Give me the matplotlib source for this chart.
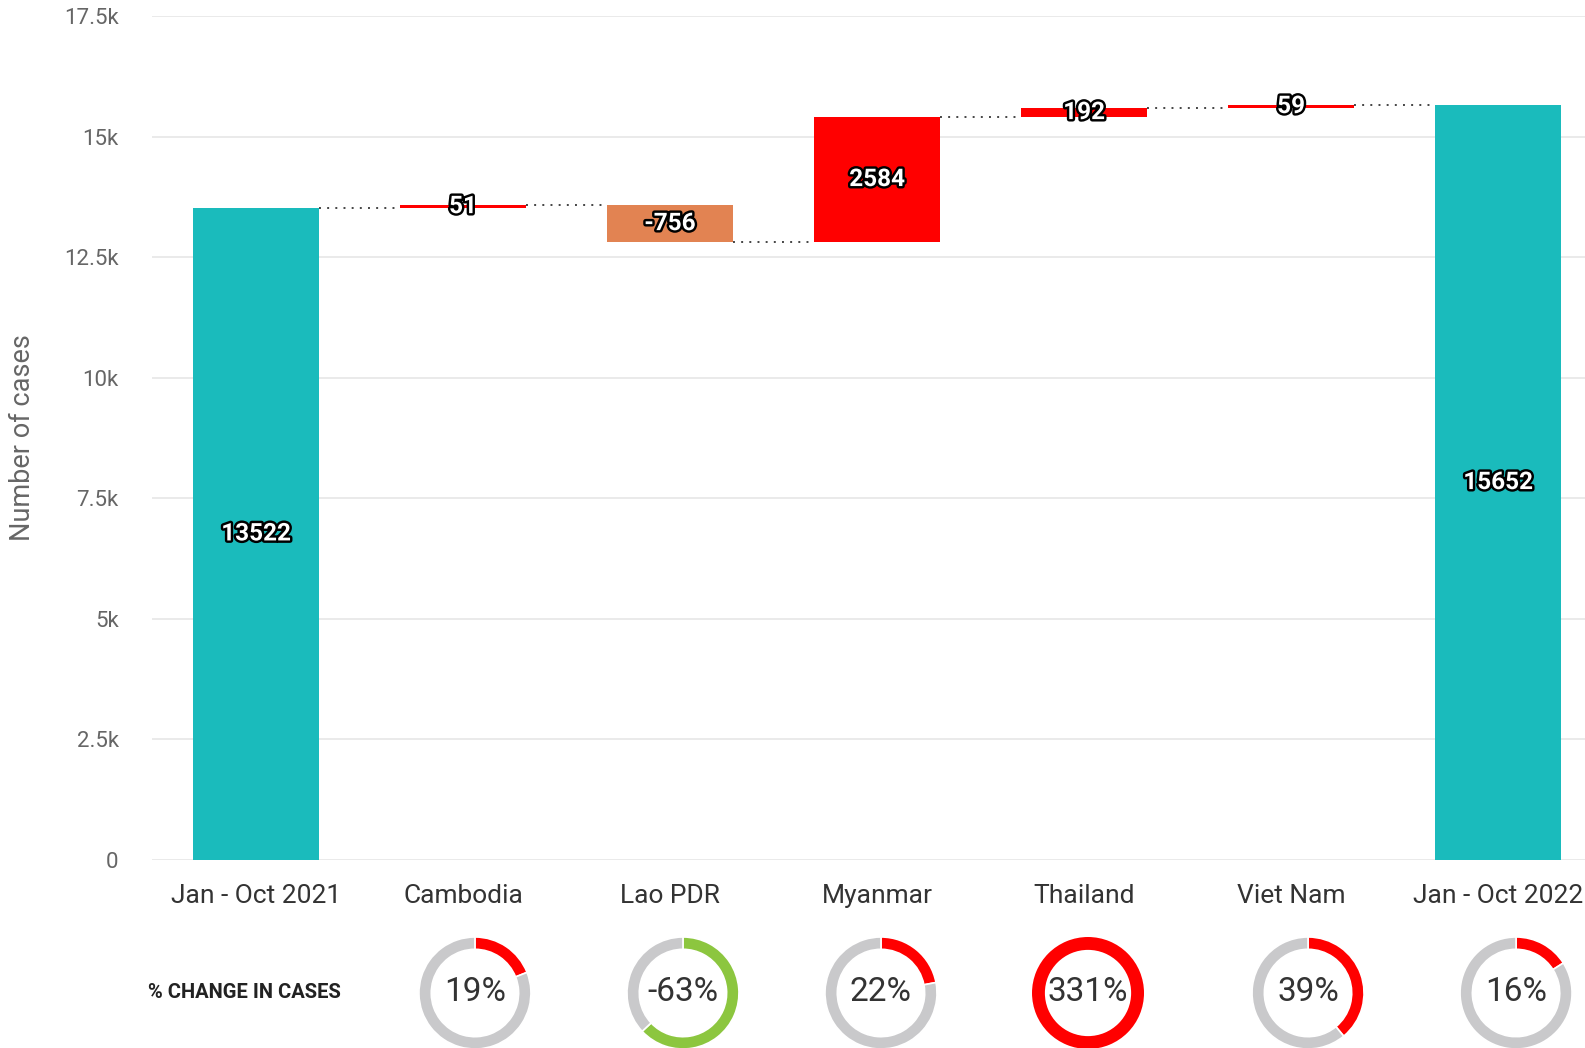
import numpy as np
import matplotlib
matplotlib.use("Agg")
import matplotlib.pyplot as plt
import matplotlib.patheffects as pe

plt.rcParams['font.family'] = ['Roboto', 'DejaVu Sans']

# data
categories = ["Jan - Oct 2021", "Cambodia", "Lao PDR", "Myanmar", "Thailand", "Viet Nam", "Jan - Oct 2022"]
start_total = 13522
changes = [51, -756, 2584, 192, 59]
end_total = 15652
pct_change = [19, -63, 22, 331, 39, 16]
yticks = [0, 2500, 5000, 7500, 10000, 12500, 15000, 17500]
ytick_labels = ["0", "2.5k", "5k", "7.5k", "10k", "12.5k", "15k", "17.5k"]

TEAL = "#1ABBBC"
RED = "#FF0000"
ORANGE = "#E28352"
GREEN = "#8CC63F"
RING_GRAY = "#C9C9CB"

W, H = 1585, 1048
fig = plt.figure(figsize=(W / 100, H / 100), dpi=100)

# main axes in pixel layout
ax_l, ax_r, ax_b, ax_t = 152, W, 860, 16
ax = fig.add_axes([ax_l / W, 1 - ax_b / H, (ax_r - ax_l) / W, (ax_b - ax_t) / H])

# waterfall geometry
bottoms = [0]
heights = [start_total]
colors = [TEAL]
running = start_total
for c in changes:
    if c >= 0:
        bottoms.append(running)
        colors.append(RED)
    else:
        bottoms.append(running + c)
        colors.append(ORANGE)
    heights.append(abs(c))
    running += c
bottoms.append(0)
heights.append(end_total)
colors.append(TEAL)

x = np.arange(len(categories))
bw = 0.61
ax.bar(x, heights, bottom=bottoms, width=bw, color=colors, zorder=3)

# dotted connectors at running totals
levels = np.cumsum([start_total] + changes)
for i, lvl in enumerate(levels):
    ax.plot([x[i] + bw / 2, x[i + 1] - bw / 2], [lvl, lvl], linestyle=(0, (1, 3.2)),
            color="#444444", linewidth=1.4, zorder=2)

# value labels
vals = [start_total] + changes + [end_total]
for i, v in enumerate(vals):
    ax.text(x[i], bottoms[i] + heights[i] / 2, str(v), ha="center", va="center",
            fontsize=17.5, fontweight="bold", color="white", zorder=5,
            path_effects=[pe.withStroke(linewidth=3.5, foreground="black")])

ax.set_xlim(-0.502, 6.42)
ax.set_ylim(0, 17500)
ax.set_yticks(yticks)
ax.set_yticklabels(ytick_labels)
ax.set_xticks(x)
ax.set_xticklabels(categories)
ax.tick_params(axis="y", length=0, pad=24, labelsize=16, labelcolor="#666666")
ax.tick_params(axis="x", length=0, pad=17, labelsize=19, labelcolor="#333333")
ax.grid(axis="y", color="#E6E6E6", linewidth=1.2, zorder=0)
ax.set_axisbelow(True)
for s in ax.spines.values():
    s.set_visible(False)
ax.set_ylabel("Number of cases", fontsize=19.5, color="#666666")
ax.yaxis.set_label_coords((36 - ax_l) / (ax_r - ax_l), 0.5)

# donut row
fig.text(244 / W, 1 - 993 / H, "% CHANGE IN CASES", ha="center", va="center",
         fontsize=14.5, fontweight="bold", color="#222222")

scale = (ax_r - ax_l) / (ax.get_xlim()[1] - ax.get_xlim()[0])
donut_offsets = [12, 13, 4, 4, 17, 18]   # px shift of each donut from its bar centre
r = 56
cy = 993
for i, p in enumerate(pct_change):
    cx = ax_l + (x[i + 1] - ax.get_xlim()[0]) * scale + donut_offsets[i]
    dax = fig.add_axes([(cx - r) / W, 1 - (cy + r) / H, 2 * r / W, 2 * r / H])
    frac = min(abs(p) / 100, 1.0)
    col = GREEN if p < 0 else RED
    if frac >= 1:
        dax.pie([1], colors=[col], startangle=90, counterclock=False,
                wedgeprops=dict(width=0.23, linewidth=0))
    else:
        dax.pie([frac, 1 - frac], colors=[col, RING_GRAY], startangle=90, counterclock=False,
                wedgeprops=dict(width=0.22, edgecolor="white", linewidth=1.2))
    dax.set_xlim(-1, 1)
    dax.set_ylim(-1, 1)
    dax.set_aspect("equal")
    dax.axis("off")
    dax.text(0, 0.02, f"{p}%", ha="center", va="center", fontsize=24, color="#333333")

fig.savefig("out.png", dpi=100)
